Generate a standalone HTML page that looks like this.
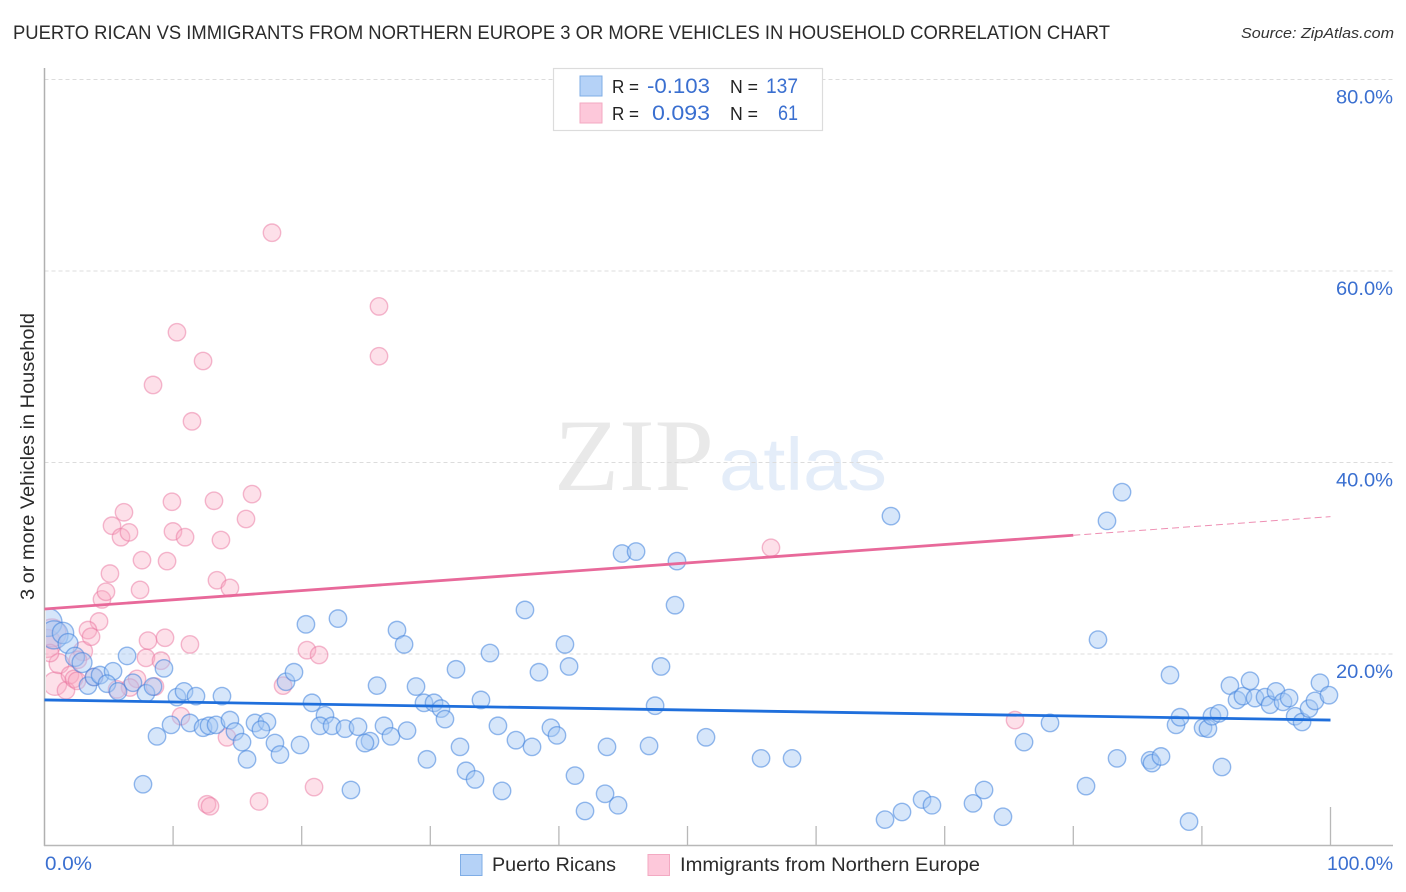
<!DOCTYPE html>
<html lang="en">
<head>
<meta charset="utf-8">
<title>Puerto Rican vs Immigrants from Northern Europe 3 or More Vehicles Correlation Chart</title>
<style>
html,body{margin:0;padding:0;background:#fff;}
body{width:1406px;height:892px;overflow:hidden;}
svg{display:block;font-family:"Liberation Sans",sans-serif;}
</style>
</head>
<body>
<svg id="chart" width="1406" height="892" viewBox="0 0 1406 892" xmlns="http://www.w3.org/2000/svg">
  <defs><clipPath id="plot-clip"><rect x="46" y="60" width="1350" height="785"/></clipPath></defs>
  <rect width="1406" height="892" fill="#fff"/>
  <text x="13" y="39" font-size="19" fill="#2b2b2b" textLength="1097" lengthAdjust="spacingAndGlyphs">PUERTO RICAN VS IMMIGRANTS FROM NORTHERN EUROPE 3 OR MORE VEHICLES IN HOUSEHOLD CORRELATION CHART</text>
  <text x="1241" y="38" font-size="15" font-style="italic" fill="#333" textLength="153" lengthAdjust="spacingAndGlyphs">Source: ZipAtlas.com</text>

  <g>
    <text x="554" y="490" font-family="'Liberation Serif',serif" font-size="103" fill="#e9e9e9" textLength="160" lengthAdjust="spacingAndGlyphs">ZIP</text>
    <text x="719" y="490" font-size="74" fill="#e4edf9" textLength="168" lengthAdjust="spacingAndGlyphs">atlas</text>
  </g>

  <g id="grid"></g>
  <g id="axes"></g>
  <g id="points" clip-path="url(#plot-clip)"></g>
  <g id="trends"></g>
  <g id="ticklabels"></g>

  <text transform="translate(34,600) rotate(-90)" font-size="19" fill="#2b2b2b" textLength="287" lengthAdjust="spacingAndGlyphs">3 or more Vehicles in Household</text>

  <g>
    <rect x="553.5" y="68.5" width="269" height="62" fill="#fff" stroke="#dcdcdc" stroke-width="1.2"/>
    <rect x="580" y="76" width="22" height="20" fill="#b5d2f7" stroke="#7fade6" stroke-width="1"/>
    <rect x="580" y="103" width="22" height="20" fill="#fdc8da" stroke="#f3a9c2" stroke-width="1"/>
    <text x="612" y="93" font-size="18" fill="#222" textLength="27" lengthAdjust="spacingAndGlyphs">R =</text>
    <text x="647" y="93" font-size="21" fill="#3a6fd0" textLength="63" lengthAdjust="spacingAndGlyphs">-0.103</text>
    <text x="730" y="93" font-size="18" fill="#222" textLength="28" lengthAdjust="spacingAndGlyphs">N =</text>
    <text x="766" y="93" font-size="21" fill="#3a6fd0" textLength="32" lengthAdjust="spacingAndGlyphs">137</text>
    <text x="612" y="120" font-size="18" fill="#222" textLength="27" lengthAdjust="spacingAndGlyphs">R =</text>
    <text x="652" y="120" font-size="21" fill="#3a6fd0" textLength="58" lengthAdjust="spacingAndGlyphs">0.093</text>
    <text x="730" y="120" font-size="18" fill="#222" textLength="28" lengthAdjust="spacingAndGlyphs">N =</text>
    <text x="778" y="120" font-size="21" fill="#3a6fd0" textLength="20" lengthAdjust="spacingAndGlyphs">61</text>
  </g>

  <g>
    <rect x="460.5" y="854.5" width="21.5" height="21" fill="#b5d2f7" stroke="#7fade6" stroke-width="1"/>
    <text x="492" y="871" font-size="19.5" fill="#2b2b2b" textLength="124" lengthAdjust="spacingAndGlyphs">Puerto Ricans</text>
    <rect x="648" y="854.5" width="21.5" height="21" fill="#fdc8da" stroke="#f3a9c2" stroke-width="1"/>
    <text x="680" y="871" font-size="19.5" fill="#2b2b2b" textLength="300" lengthAdjust="spacingAndGlyphs">Immigrants from Northern Europe</text>
  </g>
</svg>
<script>
const yTicks = [20, 40, 60, 80];
const yTickLabels = ["20.0%", "40.0%", "60.0%", "80.0%"];
const xTicks = [10, 20, 30, 40, 50, 60, 70, 80, 90, 100];
const xEndLabels = ["0.0%", "100.0%"];

const blueX = [0.27,0.74,1.44,1.83,2.37,2.92,3.38,3.85,4.32,5.33,4.86,6.42,5.72,6.88,7.89,8.44,9.29,10.30,10.85,11.78,13.80,7.66,8.75,9.84,11.31,12.33,12.79,13.34,14.42,14.81,15.36,15.75,16.37,17.30,16.83,17.92,18.31,19.87,18.78,19.40,20.80,21.81,21.42,22.36,23.37,24.38,25.31,24.92,26.40,26.94,25.86,23.83,20.33,22.82,27.41,27.96,28.19,28.89,29.51,30.29,30.83,31.14,29.74,32.00,32.31,32.78,33.48,33.94,34.64,35.26,35.58,36.66,37.36,37.91,38.45,39.38,39.85,40.47,40.79,41.25,42.03,43.59,43.74,44.60,44.91,46.00,47.01,47.48,47.94,49.03,49.18,51.44,55.72,58.13,65.36,65.82,66.68,68.24,69.01,72.20,73.06,74.53,76.17,78.19,80.99,81.92,82.62,83.40,83.79,85.97,86.12,86.82,87.52,87.99,88.30,89.00,90.09,90.47,90.78,91.33,91.56,92.18,92.73,93.19,93.74,94.13,94.91,95.30,95.76,96.31,96.78,97.25,97.79,98.33,98.79,99.18,99.88];
const blueY = [23.3,22.0,22.2,21.1,19.7,19.1,16.7,17.6,17.8,18.2,16.9,19.8,16.1,17.0,15.9,16.6,18.5,15.5,16.1,15.6,15.6,6.4,11.4,12.6,12.8,12.3,12.5,12.6,13.1,11.9,10.8,9.0,12.8,12.9,12.1,10.7,9.5,10.5,17.1,18.1,14.9,13.6,12.5,12.5,12.2,12.4,10.9,10.7,12.5,11.4,16.7,5.8,23.1,23.7,22.5,21.0,12.0,16.6,14.9,14.9,14.3,13.2,9.0,18.4,10.3,7.8,6.9,15.2,20.1,12.5,5.7,11.0,24.6,10.3,18.1,12.3,11.5,21.0,18.7,7.3,3.6,5.4,10.3,4.2,30.5,30.7,10.4,14.6,18.7,25.1,29.7,11.3,9.1,9.1,2.7,34.4,3.5,4.8,4.2,4.4,5.8,3.0,10.8,12.8,6.2,21.5,33.9,9.1,36.9,8.9,8.6,9.3,17.8,12.6,13.4,2.5,12.3,12.2,13.5,13.8,8.2,16.7,15.2,15.6,17.2,15.4,15.5,14.7,16.1,15.0,15.4,13.5,12.9,14.3,15.1,17.0,15.7];
const blueWeights = [2.6,2.6,1.5,1.3,1.2,1.3];

const pinkX = [0.19,0.58,0.82,1.67,1.13,1.98,2.29,2.99,2.60,3.85,4.24,3.38,3.62,4.47,4.78,5.09,7.43,7.58,9.53,5.25,5.95,6.57,6.18,9.91,9.99,10.93,13.18,13.72,15.67,16.14,13.41,14.42,8.05,9.37,11.31,7.89,9.06,7.19,6.65,5.64,8.59,10.61,14.19,12.64,12.87,16.68,20.96,18.55,20.41,21.35,17.69,26.01,26.01,10.30,12.33,8.44,11.47,56.49,75.47,0.43,2.53];
const pinkY = [21.1,22.2,16.9,16.2,19.0,17.8,17.4,20.3,19.4,17.6,23.4,22.5,21.8,25.7,26.5,28.4,26.7,29.8,29.7,33.4,32.2,32.7,34.8,35.9,32.8,32.2,36.0,31.9,34.1,36.7,27.7,26.9,21.4,21.7,21.0,19.6,19.3,17.4,16.5,16.3,16.6,13.5,11.3,4.3,4.1,4.6,6.1,16.7,20.4,19.9,64.0,56.3,51.1,53.6,50.6,48.1,44.3,31.1,13.1,20.1,17.2];
const pinkWeights = [2.6,2.6,1.8,1,1.3,1,1,1.2];

const blueTrendX = [0, 100];
const blueTrendY = [15.2, 13.1];
const pinkTrendSolidX = [0, 80];
const pinkTrendSolidY = [24.7, 32.4];
const pinkTrendDashX = [80, 100];
const pinkTrendDashY = [32.4, 34.35];

const SVGNS = "http://www.w3.org/2000/svg";
function xScale(v){ return 44.5 + v * 12.86; }
function yScale(v){ return 845.5 - v * 9.575; }
function make(tag, attrs, parent){
  const el = document.createElementNS(SVGNS, tag);
  for (const k in attrs) el.setAttribute(k, attrs[k]);
  parent.appendChild(el);
  return el;
}
const gridG = document.getElementById("grid");
const axesG = document.getElementById("axes");
const ptsG = document.getElementById("points");
const trendG = document.getElementById("trends");
const labelG = document.getElementById("ticklabels");

yTicks.forEach(function(v, i){
  const line = make("line", {x1:44.5, x2:1393, y1:yScale(v), y2:yScale(v), stroke:"#dcdcdc", "stroke-width":1, "stroke-dasharray":"4 3"}, gridG);
  
  
  const t = make("text", {x:1336, y:yScale(v)+24, "font-size":19.5, fill:"#3a6fd0", textLength:57, lengthAdjust:"spacingAndGlyphs"}, labelG);
  t.textContent = yTickLabels[i];
  
  
});

const yAxis = make("line", {x1:44.5, x2:44.5, y1:68, y2:846, stroke:"#b0b0b0", "stroke-width":1.5}, axesG);


const xAxis = make("line", {x1:44, x2:1393, y1:845.5, y2:845.5, stroke:"#b8b8b8", "stroke-width":1.5}, axesG);


xTicks.forEach(function(v){
  const top = v === 100 ? 807 : 826;
  const tk = make("line", {x1:xScale(v), x2:xScale(v), y1:top, y2:845.5, stroke:"#b8b8b8", "stroke-width":1.3}, axesG);
  
  
});

const x0Label = make("text", {x:45, y:870, "font-size":19.5, fill:"#3a6fd0", textLength:47, lengthAdjust:"spacingAndGlyphs"}, labelG);
x0Label.textContent = xEndLabels[0];


const x1Label = make("text", {x:1327, y:870, "font-size":19.5, fill:"#3a6fd0", textLength:66, lengthAdjust:"spacingAndGlyphs"}, labelG);
x1Label.textContent = xEndLabels[1];



const BASE_R = 8.7;
pinkX.forEach(function(v, i){
  const w = pinkWeights[i] || 1;
  const c = make("circle", {cx:xScale(v), cy:yScale(pinkY[i]), r:BASE_R*Math.sqrt(w), fill:"#f9a9c3", "fill-opacity":0.36, stroke:"#e9769f", "stroke-opacity":0.5, "stroke-width":1.4}, ptsG);
  
  
});
blueX.forEach(function(v, i){
  const w = blueWeights[i] || 1;
  const c = make("circle", {cx:xScale(v), cy:yScale(blueY[i]), r:BASE_R*Math.sqrt(w), fill:"#a5c8f3", "fill-opacity":0.45, stroke:"#3f82dc", "stroke-opacity":0.55, "stroke-width":1.4}, ptsG);
  
  
});

const pinkSolid = make("line", {x1:xScale(pinkTrendSolidX[0]), y1:yScale(pinkTrendSolidY[0]), x2:xScale(pinkTrendSolidX[1]), y2:yScale(pinkTrendSolidY[1]), stroke:"#e8699a", "stroke-width":2.8}, trendG);


const pinkDash = make("line", {x1:xScale(pinkTrendDashX[0]), y1:yScale(pinkTrendDashY[0]), x2:xScale(pinkTrendDashX[1]), y2:yScale(pinkTrendDashY[1]), stroke:"#ee8fb3", "stroke-width":1, "stroke-dasharray":"7 4"}, trendG);


const blueLine = make("line", {x1:xScale(blueTrendX[0]), y1:yScale(blueTrendY[0]), x2:xScale(blueTrendX[1]), y2:yScale(blueTrendY[1]), stroke:"#1f6fdc", "stroke-width":2.8}, trendG);


</script>
</body>
</html>
